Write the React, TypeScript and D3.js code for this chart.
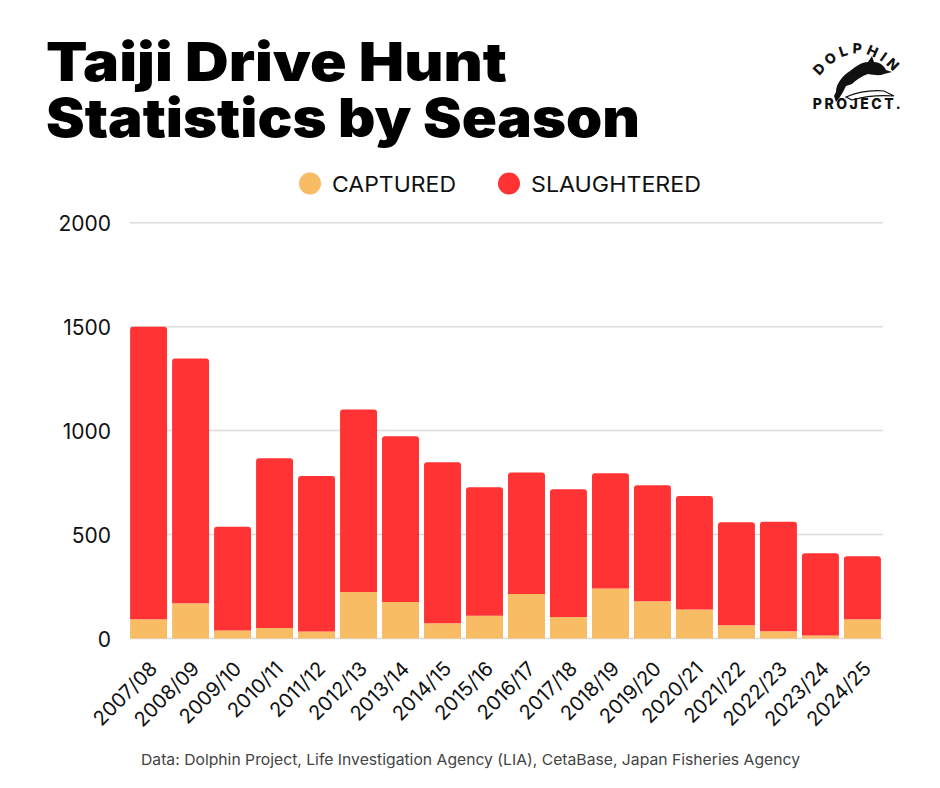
import { useEffect, useRef } from "react";
import * as d3 from "d3";

const seasons = [
  "2007/08", "2008/09", "2009/10", "2010/11", "2011/12", "2012/13",
  "2013/14", "2014/15", "2015/16", "2016/17", "2017/18", "2018/19",
  "2019/20", "2020/21", "2021/22", "2022/23", "2023/24", "2024/25",
];
const captured = [93, 170, 38, 50, 34, 224, 175, 73, 110, 214, 104, 240, 179, 139, 64, 35, 14, 93];
const slaughtered = [1407, 1177, 499, 817, 748, 878, 798, 775, 617, 584, 614, 555, 558, 546, 495, 526, 396, 303];
const yTicks = [0, 500, 1000, 1500, 2000];
const seriesKeys = ["captured", "slaughtered"];
const seriesLabels = ["CAPTURED", "SLAUGHTERED"];
const colors = ["#F8BC64", "#FF3333"];

const WIDTH = 940;
const HEIGHT = 788;
const FONT = "Inter, 'Noto Sans', sans-serif";

// path for a bar with only its top corners rounded
function topRounded(x: number, y: number, w: number, h: number, r: number) {
  const rr = Math.min(r, h / 2, w / 2);
  return `M${x},${y + h}V${y + rr}Q${x},${y} ${x + rr},${y}H${x + w - rr}Q${x + w},${y} ${x + w},${y + rr}V${y + h}Z`;
}

export default function App() {
  const svgRef = useRef<SVGSVGElement>(null);

  useEffect(() => {
    if (!svgRef.current) return;
    const svg = d3.select(svgRef.current);
    svg.selectAll("*").remove();

    svg.append("rect").attr("width", WIDTH).attr("height", HEIGHT).attr("fill", "#fff");

    const rows = seasons.map((s, i) => ({
      season: s,
      captured: captured[i],
      slaughtered: slaughtered[i],
    }));

    const x = d3
      .scaleBand<string>()
      .domain(seasons)
      .range([128, 883])
      .paddingInner(0.12)
      .paddingOuter(0.05);

    const y = d3.scaleLinear().domain([0, 2000]).range([638.5, 222.7]);

    // Title (one text, two lines)
    const title = svg
      .append("text")
      .attr("font-family", "Inter, Lato, sans-serif")
      .attr("font-weight", 900)
      .attr("font-size", 54)
      .attr("fill", "#000");
    title
      .append("tspan")
      .attr("x", 46)
      .attr("y", 81)
      .attr("textLength", 461)
      .attr("lengthAdjust", "spacingAndGlyphs")
      .text("Taiji Drive Hunt");
    title
      .append("tspan")
      .attr("x", 46)
      .attr("y", 137)
      .attr("textLength", 594)
      .attr("lengthAdjust", "spacingAndGlyphs")
      .text("Statistics by Season");

    // Logo (rough sketch)
    const logo = svg.append("g").attr("fill", "#111");
    logo
      .append("path")
      .attr("id", "logoArc")
      .attr("d", "M812,86 Q856,22 904,84")
      .attr("fill", "none");
    logo
      .append("text")
      .attr("font-family", FONT)
      .attr("font-weight", 800)
      .attr("font-size", 14)
      .attr("letter-spacing", 4)
      .append("textPath")
      .attr("href", "#logoArc")
      .attr("startOffset", "50%")
      .attr("text-anchor", "middle")
      .text("DOLPHIN");
    // jumping dolphin
    logo
      .append("path")
      .attr(
        "d",
        "M836,92 C836,84 842,76 850,71 C856,66 862,62 868,62 L872,56 L874,62 C880,62 884,66 886,70 L892,72 L884,74 C880,76 874,75 868,74 C862,76 856,80 852,84 L846,86 C844,90 842,94 840,97 L836,102 L834,96 Z"
      );
    // hand below
    logo
      .append("path")
      .attr("d", "M846,97 C858,92 872,90 884,91 L894,96 C880,95 866,96 852,100 Z")
      .attr("fill", "none")
      .attr("stroke", "#111")
      .attr("stroke-width", 1.2);
    logo
      .append("text")
      .attr("x", 858)
      .attr("y", 109)
      .attr("text-anchor", "middle")
      .attr("font-family", FONT)
      .attr("font-weight", 800)
      .attr("font-size", 14)
      .attr("letter-spacing", 2.5)
      .text("PROJECT.");

    // Legend
    const legendX = [310, 509];
    const legendTextX = [332, 531];
    const legendW = [124, 170];
    seriesLabels.forEach((lab, i) => {
      svg
        .append("circle")
        .attr("cx", legendX[i])
        .attr("cy", 183.5)
        .attr("r", 11)
        .attr("fill", colors[i]);
      svg
        .append("text")
        .attr("x", legendTextX[i])
        .attr("y", 192)
        .attr("font-family", FONT)
        .attr("font-size", 22)
        .attr("fill", "#111")
        .attr("textLength", legendW[i])
        .attr("lengthAdjust", "spacingAndGlyphs")
        .text(lab);
    });

    // Grid lines
    svg
      .append("g")
      .selectAll("line")
      .data(yTicks)
      .join("line")
      .attr("x1", 130)
      .attr("x2", 883)
      .attr("y1", (d) => y(d))
      .attr("y2", (d) => y(d))
      .attr("stroke", "#dcdcdc")
      .attr("stroke-width", 1.5);

    // Y axis labels
    svg
      .append("g")
      .selectAll("text")
      .data(yTicks)
      .join("text")
      .attr("x", 111)
      .attr("y", (d) => y(d) + 1)
      .attr("dy", "0.36em")
      .attr("text-anchor", "end")
      .attr("font-family", FONT)
      .attr("font-size", 21)
      .attr("fill", "#111")
      .text((d) => d);

    // Stacked bars
    const stack = d3.stack<any>().keys(seriesKeys)(rows);
    stack.forEach((layer, li) => {
      svg
        .append("g")
        .selectAll("path")
        .data(layer)
        .join("path")
        .attr("d", (d: any) => {
          const x0 = x(d.data.season)!;
          const y0 = y(d[1]);
          const h = y(d[0]) - y(d[1]);
          return li === seriesKeys.length - 1
            ? topRounded(x0, y0, x.bandwidth(), h, 3)
            : `M${x0},${y0}h${x.bandwidth()}v${h}h${-x.bandwidth()}Z`;
        })
        .attr("fill", colors[li]);
    });

    // X axis labels
    svg
      .append("g")
      .selectAll("text")
      .data(seasons)
      .join("text")
      .attr("transform", (d) => `translate(${x(d)! + x.bandwidth() / 2 + 10},${670}) rotate(-45)`)
      .attr("text-anchor", "end")
      .attr("font-family", FONT)
      .attr("font-size", 20)
      .attr("fill", "#111")
      .text((d) => d);

    // Source note
    svg
      .append("text")
      .attr("x", 141)
      .attr("y", 765)
      .attr("font-family", FONT)
      .attr("font-size", 15)
      .attr("fill", "#444")
      .attr("textLength", 659)
      .attr("lengthAdjust", "spacingAndGlyphs")
      .text("Data: Dolphin Project, Life Investigation Agency (LIA), CetaBase, Japan Fisheries Agency");
  }, []);

  return (
    <svg
      ref={svgRef}
      width={WIDTH}
      height={HEIGHT}
      style={{ position: "absolute", left: 0, top: 0 }}
    />
  );
}
